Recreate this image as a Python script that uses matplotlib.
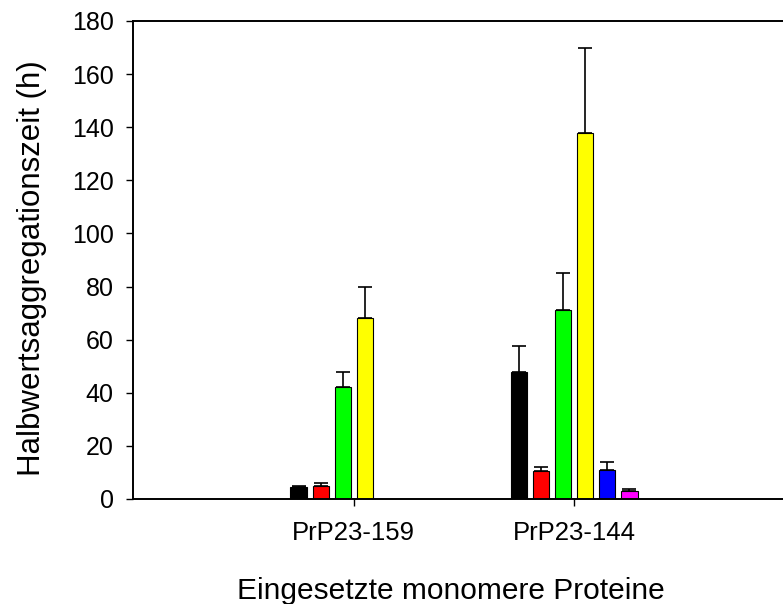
import matplotlib
matplotlib.use("Agg")
import matplotlib.pyplot as plt
import numpy as np

plt.rcParams['font.family'] = ['Liberation Sans', 'DejaVu Sans']

categories = ["PrP23-159", "PrP23-144"]
series_colors = ["#000000", "#ff0000", "#00ff00", "#ffff00", "#0000ff", "#ff00ff"]

# mean half-aggregation time per series (NaN = not measured)
means = [
    [4.5, 48.0],
    [5.0, 10.5],
    [42.0, 71.0],
    [68.0, 138.0],
    [np.nan, 11.0],
    [np.nan, 3.0],
]
errors = [
    [0.5, 9.5],
    [1.0, 1.6],
    [6.0, 14.0],
    [12.0, 32.0],
    [np.nan, 3.0],
    [np.nan, 0.7],
]
yticks = [0, 20, 40, 60, 80, 100, 120, 140, 160, 180]

W, H = 783, 604
fig = plt.figure(figsize=(W / 100, H / 100), dpi=100)
ax = fig.add_axes([133 / W, (H - 499) / H, 662 / W, 478 / H])

x = np.arange(len(categories))
n = len(means)
step = 0.1
width = 0.073
for i, (m, e, c) in enumerate(zip(means, errors, series_colors)):
    xs = x + (i - (n - 1) / 2) * step
    m = np.asarray(m, dtype=float)
    e = np.asarray(e, dtype=float)
    ok = ~np.isnan(m)
    ax.bar(xs[ok], m[ok], width=width, color=c, edgecolor="black",
           linewidth=0.8, zorder=2)
    ax.errorbar(xs[ok], m[ok], yerr=[np.zeros(ok.sum()), e[ok]], fmt="none",
                ecolor="black", elinewidth=1.2, capsize=5, capthick=1.2,
                zorder=3)

ax.set_xlim(-1, 2)
ax.set_ylim(0, 180)
ax.set_xticks(x)
ax.set_xticklabels(categories, fontsize=18.5)
ax.set_yticks(yticks)
ax.set_yticklabels([str(v) for v in yticks], fontsize=18)
ax.tick_params(axis="both", direction="out", length=5, width=1)
ax.tick_params(axis="y", pad=9)
ax.tick_params(axis="x", pad=11)
for s in ax.spines.values():
    s.set_linewidth(1.4)
ax.spines["right"].set_visible(False)

ax.set_xlabel("Eingesetzte monomere Proteine", fontsize=21.5)
ax.set_ylabel("Halbwertsaggregationszeit (h)", fontsize=22.5)
ax.xaxis.set_label_coords(0.480, -0.163)
ax.yaxis.set_label_coords(-0.130, 0.482)

fig.savefig("out.png", dpi=100)
